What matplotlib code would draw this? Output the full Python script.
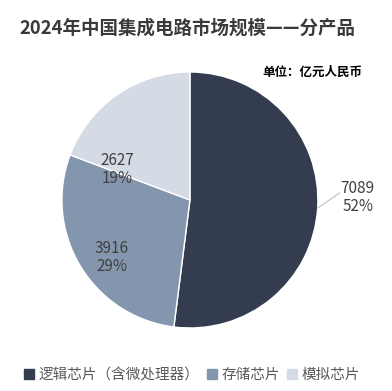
import numpy as np
import matplotlib.pyplot as plt

plt.rcParams['font.family'] = ['Noto Sans CJK SC', 'DejaVu Sans']

categories = ['逻辑芯片（含微处理器）', '存储芯片', '模拟芯片']
values = [7089, 3916, 2627]
percents = ['52%', '29%', '19%']
colors = ['#333d4f', '#8496ae', '#d5dbe5']


fig = plt.figure(figsize=(3.92, 3.91), dpi=100)
ax = fig.add_axes([0.158, 0.161, 0.653, 0.655])

wedges, _ = ax.pie(values, colors=colors, startangle=90, counterclock=False,
                   wedgeprops=dict(edgecolor='white', linewidth=1))
ax.set_xlim(-1, 1)
ax.set_ylim(-1, 1)
ax.set_aspect('equal')

# label spots (data coords), tuned by eye
label_pos = [(1.31, 0.02), (-0.61, -0.45), (-0.57, 0.24)]
for i, w in enumerate(wedges):
    txt = f'{values[i]}\n{percents[i]}'
    x, y = label_pos[i]
    if i == 0:
        ang = np.deg2rad((w.theta1 + w.theta2) / 2)
        ex, ey = np.cos(ang), np.sin(ang)
        ax.plot([ex, 1.17], [ey, 0.055], color='#bfbfbf', lw=0.8, clip_on=False)
    ax.text(x, y, txt, ha='center', va='center', fontsize=11,
            color='#404040', linespacing=1.1)

fig.text(0.05, 0.928, '2024年中国集成电路市场规模——分产品', fontsize=13.3,
         fontweight='bold', color='#3a3a3a', va='center')
fig.text(0.925, 0.815, '单位：亿元人民币', fontsize=9, fontweight='bold',
         color='black', ha='right', va='center')

handles = [plt.Rectangle((0, 0), 1, 1, color=c) for c in colors]
fig.legend(handles, categories, loc='center', bbox_to_anchor=(0.49, 0.04),
           ncol=3, frameon=False, fontsize=10.5, handlelength=0.7,
           handleheight=0.7, handletextpad=0.3, columnspacing=0.5,
           labelcolor='#595959')

fig.savefig('out.png', dpi=100)
